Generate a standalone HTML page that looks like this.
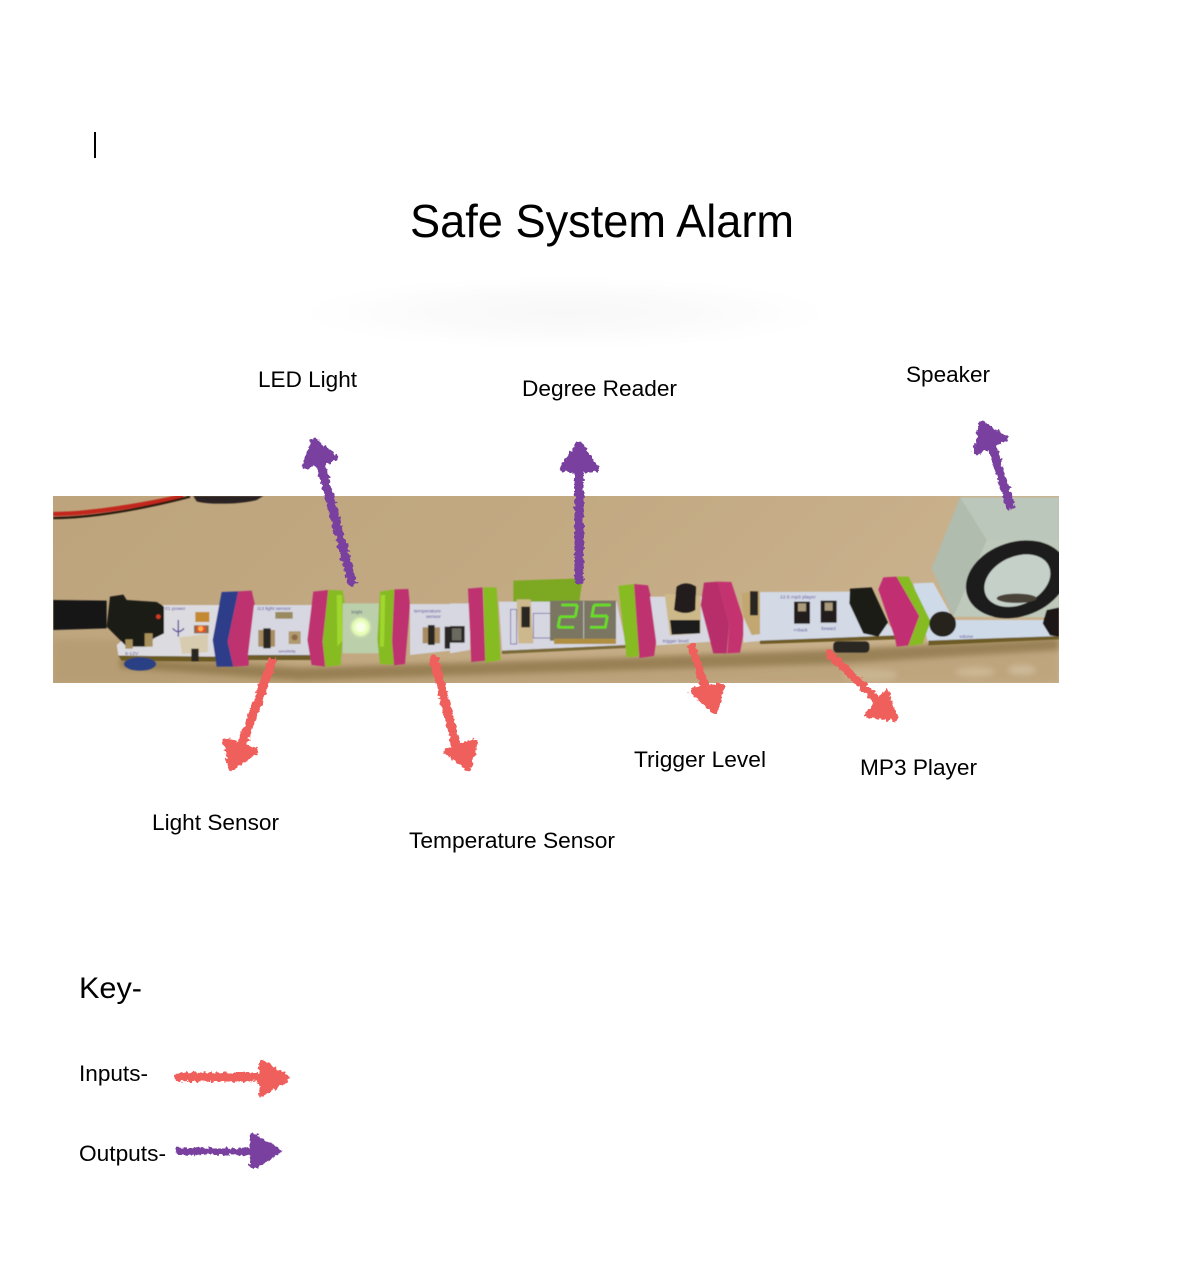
<!DOCTYPE html>
<html><head><meta charset="utf-8"><style>
html,body{margin:0;padding:0;background:#fff}
svg{display:block}
text{font-family:"Liberation Sans",Arial,sans-serif;fill:#000}
</style></head><body>
<svg width="1188" height="1264" viewBox="0 0 1188 1264" xmlns="http://www.w3.org/2000/svg">
<defs>
<filter id="b1" x="-20%" y="-50%" width="140%" height="200%"><feGaussianBlur stdDeviation="3"/></filter>
<filter id="b0" x="-5%" y="-5%" width="110%" height="110%"><feGaussianBlur stdDeviation="0.6"/></filter>
<filter id="glow" x="-200%" y="-200%" width="500%" height="500%"><feGaussianBlur stdDeviation="4"/></filter>
<filter id="rough" x="0" y="0" width="1188" height="1264" filterUnits="userSpaceOnUse"><feTurbulence type="fractalNoise" baseFrequency="0.28" numOctaves="2" seed="7"/><feDisplacementMap in="SourceGraphic" scale="6" xChannelSelector="R" yChannelSelector="G"/></filter>
<radialGradient id="sh"><stop offset="0" stop-color="#f8f8f8"/><stop offset=".45" stop-color="#fafafa"/><stop offset="1" stop-color="#fff"/></radialGradient>
<linearGradient id="bg" x1="0" y1="0" x2="1" y2="0.2"><stop offset="0" stop-color="#bda47c"/><stop offset=".5" stop-color="#c2a982"/><stop offset="1" stop-color="#cab28e"/></linearGradient>
<clipPath id="ph"><rect x="53" y="496" width="1006" height="187"/></clipPath>
</defs>

<rect width="1188" height="1264" fill="#fff"/>
<rect x="94" y="132" width="2" height="26" fill="#000"/>
<text x="410" y="237" font-size="46" textLength="384" lengthAdjust="spacingAndGlyphs">Safe System Alarm</text>
<ellipse cx="565" cy="313" rx="265" ry="36" fill="url(#sh)"/>

<g clip-path="url(#ph)">
<rect x="53" y="496" width="1006" height="187" fill="url(#bg)"/>
<path d="M53 640H130L300 668L560 660L830 650L1059 638V683H53Z" fill="#a88e62" opacity=".35" filter="url(#b1)"/>
<path d="M120 658L300 668L560 660L830 650L1059 638V650L830 664L560 672L300 680L120 668Z" fill="#7d6537" opacity=".55" filter="url(#b1)"/>
<ellipse cx="870" cy="675" rx="28" ry="6" fill="#d5c5a5" opacity=".5" filter="url(#b1)"/>
<ellipse cx="975" cy="672" rx="20" ry="5" fill="#d9c9aa" opacity=".5" filter="url(#b1)"/>
<ellipse cx="1022" cy="670" rx="14" ry="5" fill="#ddcfb3" opacity=".5" filter="url(#b1)"/>

<g filter="url(#b0)">
<!-- zoom 1 region -->
<g transform="translate(50,490) scale(.33333)">
<path d="M10 72C120 72 280 45 400 18" stroke="#c2261c" stroke-width="13" fill="none"/>
<path d="M10 84C120 84 280 57 420 20" stroke="#2a1a10" stroke-width="7" fill="none"/>
<path d="M430 18H640L620 30C570 44 470 44 440 34Z" fill="#2a2320"/>
<!-- power board -->
<path d="M340 345H515L500 500L205 497L200 465Z" fill="#dcdbe0"/>
<path d="M205 497L500 500V515L215 512Z" fill="#6a5a20"/>
<ellipse cx="270" cy="522" rx="48" ry="20" fill="#2c3f85"/>
<path d="M10 330L170 332V415L10 420Z" fill="#181614"/>
<path d="M180 320L220 314L230 330L320 336L342 350V430L310 446L290 470L230 470L170 410Z" fill="#1e1b18"/>
<rect x="226" y="448" width="22" height="28" fill="#a8905c"/><rect x="284" y="430" width="24" height="40" fill="#a8905c"/>
<circle cx="325" cy="380" r="7" fill="#d23a20"/>
<path d="M385 390v50M368 415q17 20 34 0" stroke="#5a4a98" stroke-width="4" fill="none"/>
<path d="M388 442L474 432L474 486L396 492Z" fill="#d8ccb0"/>
<rect x="424" y="476" width="22" height="38" fill="#2a2520"/>
<rect x="436" y="366" width="42" height="30" fill="#c48a30"/>
<rect x="432" y="406" width="44" height="24" fill="#8a6a48"/>
<rect x="440" y="408" width="26" height="18" fill="#f04a20"/>
<circle cx="452" cy="416" r="8" fill="#ffb050"/>
<text x="345" y="360" font-size="15" style="fill:#5a4a98">01 power</text>
<text x="225" y="495" font-size="15" style="fill:#5a4a98">9-12V</text>
<!-- blue/pink bit -->
<path d="M515 306L565 304L533 455L550 530L500 530L488 450Z" fill="#2d3c8a"/>
<path d="M565 304L605 302L615 345L595 527L550 530L533 455Z" fill="#bf3070"/>
<!-- light sensor board -->
<path d="M612 345H790V495H594Z" fill="#d6d7e1"/>
<path d="M594 495H790V510H594Z" fill="#6d5c2c"/>
<rect x="676" y="366" width="52" height="20" fill="#9a8a60"/>
<rect x="625" y="420" width="50" height="50" fill="#a88d60"/><rect x="640" y="415" width="22" height="60" fill="#2a2622"/>
<rect x="716" y="424" width="36" height="38" fill="#b09a70"/><circle cx="734" cy="442" r="9" fill="#8a6a48"/>
<text x="622" y="360" font-size="15" style="fill:#5a4a98">i13 light sensor</text>
<text x="685" y="488" font-size="12" style="fill:#5a4a98">sensitivity</text>
<!-- pink green -->
<path d="M790 305L835 300L818 455L826 530L785 525L772 450Z" fill="#bf3070"/>
<path d="M835 300L878 302L885 345L872 526L826 530L818 455Z" fill="#86bb24"/>
<path d="M860 315L876 315L878 450L862 470Z" fill="#a0d62e"/>
<rect x="878" y="340" width="108" height="150" fill="#bccfab"/>
<circle cx="932" cy="411" r="28" fill="#e8ffb8" filter="url(#glow)"/>
<circle cx="932" cy="411" r="15" fill="#f8ffe8"/>
<text x="904" y="370" font-size="13" style="fill:#4a5a70">bright</text>
<path d="M990 305L1033 298L1026 455L1032 524L990 522L982 450Z" fill="#86bb24"/>
<path d="M992 315L1006 315L1002 470L990 470Z" fill="#a0d62e"/>
<path d="M1033 298L1075 297L1080 345L1065 522L1032 526L1026 455Z" fill="#bf3070"/>
<!-- temp board -->
<path d="M1080 342H1220V480L1080 495Z" fill="#d6d7e1"/>
<rect x="1118" y="412" width="52" height="48" fill="#a88d60"/><rect x="1134" y="405" width="20" height="60" fill="#2a2622"/>
<rect x="1184" y="410" width="60" height="66" fill="#2a2825"/>
<text x="1092" y="367" font-size="15" style="fill:#5a4a98">temperature</text>
<text x="1128" y="384" font-size="15" style="fill:#5a4a98">sensor</text>
</g>

<!-- zoom 2 region -->
<g transform="translate(450,490) scale(.33333)">
<path d="M0 340H60V480L0 490Z" fill="#d6d7e1"/>
<rect x="0" y="408" width="44" height="50" fill="#2a2825"/><rect x="6" y="415" width="28" height="36" fill="#6a6a60"/>
<path d="M54 296L98 292L106 512L64 516Z" fill="#bf3070"/>
<path d="M100 292H140L152 510L106 518Z" fill="#86bb24"/>
<path d="M190 272L372 266L396 280L388 335L190 340Z" fill="#7da820"/>
<path d="M146 335H500L528 465L156 482Z" fill="#d6d7e1"/>
<path d="M156 482L528 465V474L156 492Z" fill="#7a6a38"/>
<path d="M200 328H242L250 460H205Z" fill="#cdb78d"/><rect x="214" y="350" width="26" height="62" fill="#2a2622"/>
<rect x="182" y="358" width="18" height="104" fill="none" stroke="#5a4a98" stroke-width="2"/>
<rect x="250" y="370" width="52" height="74" fill="none" stroke="#5a4a98" stroke-width="2"/>
<rect x="300" y="332" width="100" height="120" fill="#7a7662"/>
<rect x="402" y="332" width="96" height="120" fill="#7a7662"/>
<rect x="312" y="446" width="186" height="16" fill="#b09040"/>
<g fill="none" stroke="#66e020" stroke-width="8">
<path d="M334 345H382M382 345L376 380M330 380H376M330 380L324 412M324 412H372"/>
<path d="M432 345H482M432 345L426 378H472M472 378L466 412H420"/>
</g>
<path d="M505 288L552 282L570 498L530 502Z" fill="#86bb24"/>
<path d="M552 282L594 286L625 410L612 498L568 504Z" fill="#bf3070"/>
<path d="M600 320H790V455L620 466Z" fill="#d6d7e1"/>
<path d="M644 312L752 318V430L660 436Z" fill="#cdb88a"/>
<path d="M660 390L750 390V430L665 434Z" fill="#1e1c1a"/>
<path d="M680 290Q708 270 738 290L736 360Q708 378 672 360Z" fill="#211f1d"/>
<text x="638" y="458" font-size="15" style="fill:#5a4a98">trigger level</text>
<path d="M762 278L804 275L838 400L830 490L790 490L752 345Z" fill="#b82f6a"/>
<path d="M804 275L844 276L886 405L870 488L832 490L838 400Z" fill="#c4336f"/>
<path d="M880 315H960V450L880 458Z" fill="#d6d7e1"/>
<path d="M875 310L925 302L952 400L948 430L905 435L880 380Z" fill="#c2a870"/>
<rect x="900" y="304" width="24" height="72" fill="#2a2622"/>
</g>

<!-- zoom 3 region -->
<g transform="translate(760,490) scale(.33333)">
<path d="M0 306L290 305L415 435L0 455Z" fill="#d3d9e5"/>
<path d="M0 452L415 436L412 448L0 462Z" fill="#6e5c28"/>
<rect x="220" y="454" width="108" height="34" rx="12" fill="#2a2521"/>
<rect x="102" y="335" width="48" height="66" fill="#211f1d"/><rect x="114" y="340" width="24" height="24" fill="#aa9a7c"/>
<rect x="182" y="332" width="48" height="66" fill="#211f1d"/><rect x="194" y="338" width="24" height="24" fill="#aa9a7c"/>
<path d="M270 296L335 292L384 398L355 440L310 430L268 340Z" fill="#1c1a18"/>
<text x="60" y="325" font-size="15" style="fill:#5a4a98">12.5 mp3 player</text>
<text x="100" y="424" font-size="13" style="fill:#5a4a98">&lt;&lt;back</text>
<text x="184" y="420" font-size="13" style="fill:#5a4a98">forward</text>
<path d="M460 280L520 278L582 390H897V445L505 462Z" fill="#cfdae8"/>
<path d="M505 452L897 438V448L505 466Z" fill="#6e5c28"/>
<path d="M370 262L410 260L478 378L445 466L410 470L405 445L355 298Z" fill="#c22f72"/>
<path d="M410 260H446L512 395L487 462L445 468L478 378Z" fill="#86bb24"/>
<ellipse cx="548" cy="402" rx="40" ry="38" fill="#25221f"/>
<path d="M600 22H897V150H680Z" fill="#bcc7bb"/>
<path d="M600 22L680 150L580 380L515 235Z" fill="#b0bcae"/>
<path d="M680 150H897V382L580 380Z" fill="#bec9bb"/>
<ellipse cx="770" cy="268" rx="156" ry="112" transform="rotate(-18 770 268)" fill="#1e1e1a"/>
<ellipse cx="772" cy="272" rx="104" ry="72" transform="rotate(-25 772 272)" fill="#c5d0c9"/>
<ellipse cx="770" cy="325" rx="60" ry="14" fill="#4a4238"/>
<path d="M860 360L897 352V440L870 436L848 400Z" fill="#1b1917"/>
<text x="598" y="444" font-size="13" style="fill:#5a4a98">volume</text>
</g>
</g>
</g>

<!-- arrows -->
<g fill="none" stroke-linecap="round" stroke-linejoin="round" filter="url(#rough)">
<g stroke="#7a3f9f" fill="#7a3f9f">
<path d="M352 582L321 465" stroke-width="9"/><path d="M314 441L305 466L335 458Z" stroke-width="6"/>
<path d="M579 580V468" stroke-width="9"/><path d="M579 444L563 469H596Z" stroke-width="6"/>
<path d="M1010 505L993 450" stroke-width="9"/><path d="M982 424L976 452L1005 438Z" stroke-width="6"/>
<path d="M179 1151C200 1153 225 1150 252 1152" stroke-width="7"/><path d="M253 1136L278 1151L253 1167Z" stroke-width="6"/>
</g>
<g stroke="#ef5f5c" fill="#ef5f5c">
<path d="M272 662L243 742" stroke-width="9"/><path d="M231 768L226 741L255 751Z" stroke-width="6"/>
<path d="M434 659L456 745" stroke-width="9"/><path d="M468 768L447 751L475 742Z" stroke-width="6"/>
<path d="M692 647L706 690" stroke-width="8"/><path d="M715 711L692 691L722 686Z" stroke-width="6"/>
<path d="M829 653L875 698" stroke-width="8"/><path d="M895 718L868 715L886 693Z" stroke-width="6"/>
<path d="M179 1077H262" stroke-width="9"/><path d="M262 1063L287 1078L262 1094Z" stroke-width="6"/>
</g>
</g>

<text x="258" y="387" font-size="22" textLength="99" lengthAdjust="spacingAndGlyphs">LED Light</text>
<text x="522" y="396" font-size="22" textLength="155" lengthAdjust="spacingAndGlyphs">Degree Reader</text>
<text x="906" y="382" font-size="22" textLength="84" lengthAdjust="spacingAndGlyphs">Speaker</text>
<text x="152" y="830" font-size="22" textLength="127" lengthAdjust="spacingAndGlyphs">Light Sensor</text>
<text x="409" y="848" font-size="22" textLength="206" lengthAdjust="spacingAndGlyphs">Temperature Sensor</text>
<text x="634" y="767" font-size="22" textLength="132" lengthAdjust="spacingAndGlyphs">Trigger Level</text>
<text x="860" y="775" font-size="22" textLength="117" lengthAdjust="spacingAndGlyphs">MP3 Player</text>
<text x="79" y="998" font-size="30" textLength="63" lengthAdjust="spacingAndGlyphs">Key-</text>
<text x="79" y="1081" font-size="22" textLength="69" lengthAdjust="spacingAndGlyphs">Inputs-</text>
<text x="79" y="1161" font-size="22" textLength="87" lengthAdjust="spacingAndGlyphs">Outputs-</text>
</svg>
</body></html>
